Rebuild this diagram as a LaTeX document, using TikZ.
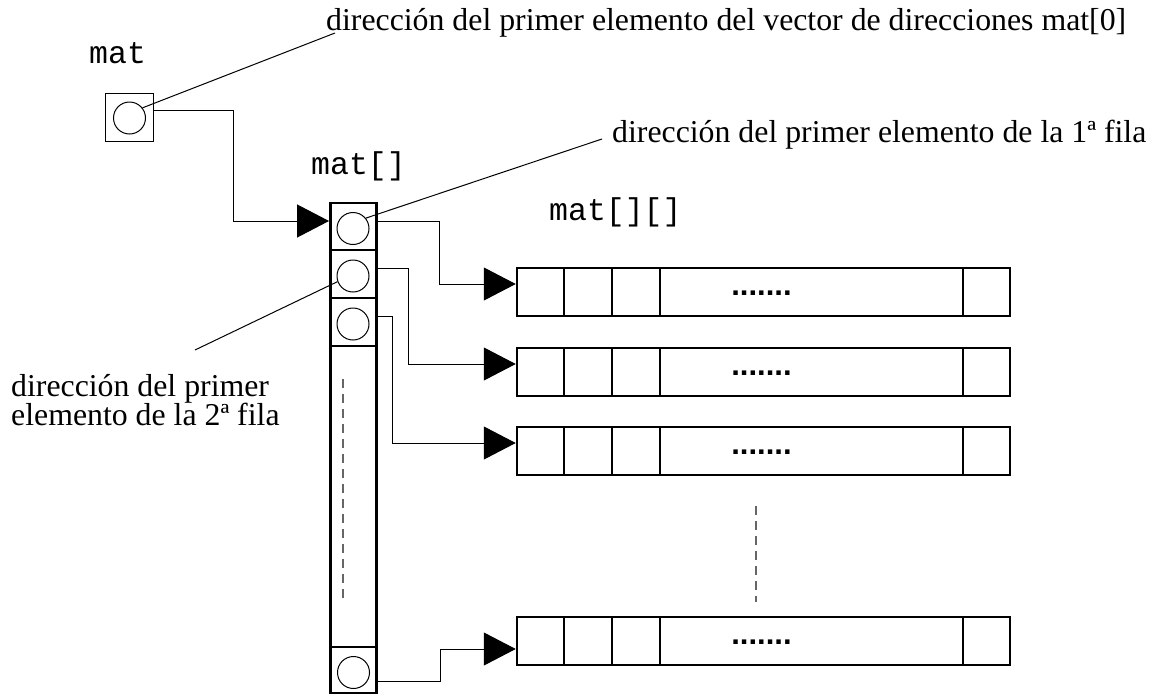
\documentclass[tikz,border=0pt]{standalone}
\usepackage{fontspec}
\setmainfont{Liberation Serif}
\setmonofont{Liberation Mono}
\newfontfamily\dotfont{Liberation Sans}
\usetikzlibrary{arrows.meta}
\begin{document}
\begin{tikzpicture}[x=1pt,y=-1pt,
  cellbox/.style={draw, line width=2.5pt, rectangle, inner sep=0pt, minimum width=46pt},
  ptrbox/.style={draw, line width=1pt, rectangle, inner sep=0pt, minimum size=48pt},
  ptr/.style={draw, circle, line width=1pt, minimum size=32pt, inner sep=0pt},
  lbl/.style={font=\fontsize{31.8}{37}\selectfont, inner sep=0pt, anchor=base west},
  code/.style={font=\ttfamily\fontsize{31.5}{37}\selectfont, inner sep=0pt, anchor=base west},
  link/.style={line width=1pt, -{Triangle[length=32pt,width=33pt]}},
  leader/.style={line width=1pt},
  gap/.style={line width=1.2pt, black!60, dash pattern=on 9pt off 6pt},
  rowdots/.style={font=\dotfont\bfseries\fontsize{31}{37}\selectfont, inner sep=0pt, anchor=base}
]
\useasboundingbox (0,0) rectangle (1149,694);

% texts
\node[lbl] (t0) at (326,30) {dirección del primer elemento del vector de direcciones mat[0]};
\node[lbl] (t1) at (612,142) {dirección del primer elemento de la 1ª fila};
\node[lbl] (t2a) at (11,396) {dirección del primer};
\node[lbl] (t2b) at (11,425) {elemento de la 2ª fila};
\node[code] (n0) at (89,63) {mat};
\node[code] (n1) at (311,174) {mat[]};
\node[code] (n2) at (549,220) {mat[][]};

% mat pointer
\node[ptrbox] (mb) at (129,117) {};
\node[ptr] (k0) at (129.5,118) {};

% column mat[]
\node[cellbox, minimum height=47pt] (c1) at (353.3,226.5) {};
\node[cellbox, minimum height=48pt] (c2) at (353.3,274) {};
\node[cellbox, minimum height=48pt] (c3) at (353.3,322) {};
\node[cellbox, minimum height=301pt] (cl) at (353.3,496.5) {};
\node[cellbox, minimum height=46pt] (c4) at (353.3,670) {};
\node[ptr] (k1) at (353,228.5) {};
\node[ptr] (k2) at (353,276) {};
\node[ptr] (k3) at (353,324) {};
\node[ptr] (k4) at (353.5,672.5) {};

% rows mat[][]
\foreach \n/\y in {1/292,2/372,3/451,4/641}{
  \node[cellbox, minimum width=493pt, minimum height=48pt] (r\n) at (763.5,\y) {};
  \foreach \x in {564,612,660,963}
    \draw[line width=2.5pt] (\x,{\y-24}) -- (\x,{\y+24});
  \node[rowdots] (d\n) at (761.5,{\y+3}) {.......};
}
\coordinate (a1) at ([yshift=8pt]r1.west);
\coordinate (a2) at ([yshift=8pt]r2.west);
\coordinate (a3) at ([yshift=8pt]r3.west);
\coordinate (a4) at ([yshift=-8pt]r4.west);

% connectors
\draw[link] ([yshift=7pt]mb.east) -- ++(80,0) |- ([yshift=5.5pt]c1.west);
\draw[link] ([yshift=5.5pt]c1.east) -- ++(62,0) |- (a1);
\draw[link] ([yshift=6pt]c2.east) -- ++(31,0) |- (a2);
\draw[link] ([yshift=6pt]c3.east) -- ++(15,0) |- (a3);
\draw[link] ([yshift=-11pt]c4.east) -- ++(63,0) |- (a4);

% leaders
\coordinate (e0) at (335,33);
\coordinate (e1) at (602,139);
\coordinate (e2) at (195,350);
\draw[leader] (k0.38) -- (e0);
\draw[leader] (k1.39) -- (e1);
\draw[leader] (k2.200) -- (e2);

% continuation marks
\draw[gap] (343,379) -- (343,602);
\draw[gap] (756,506) -- (756,602);
\end{tikzpicture}
\end{document}
